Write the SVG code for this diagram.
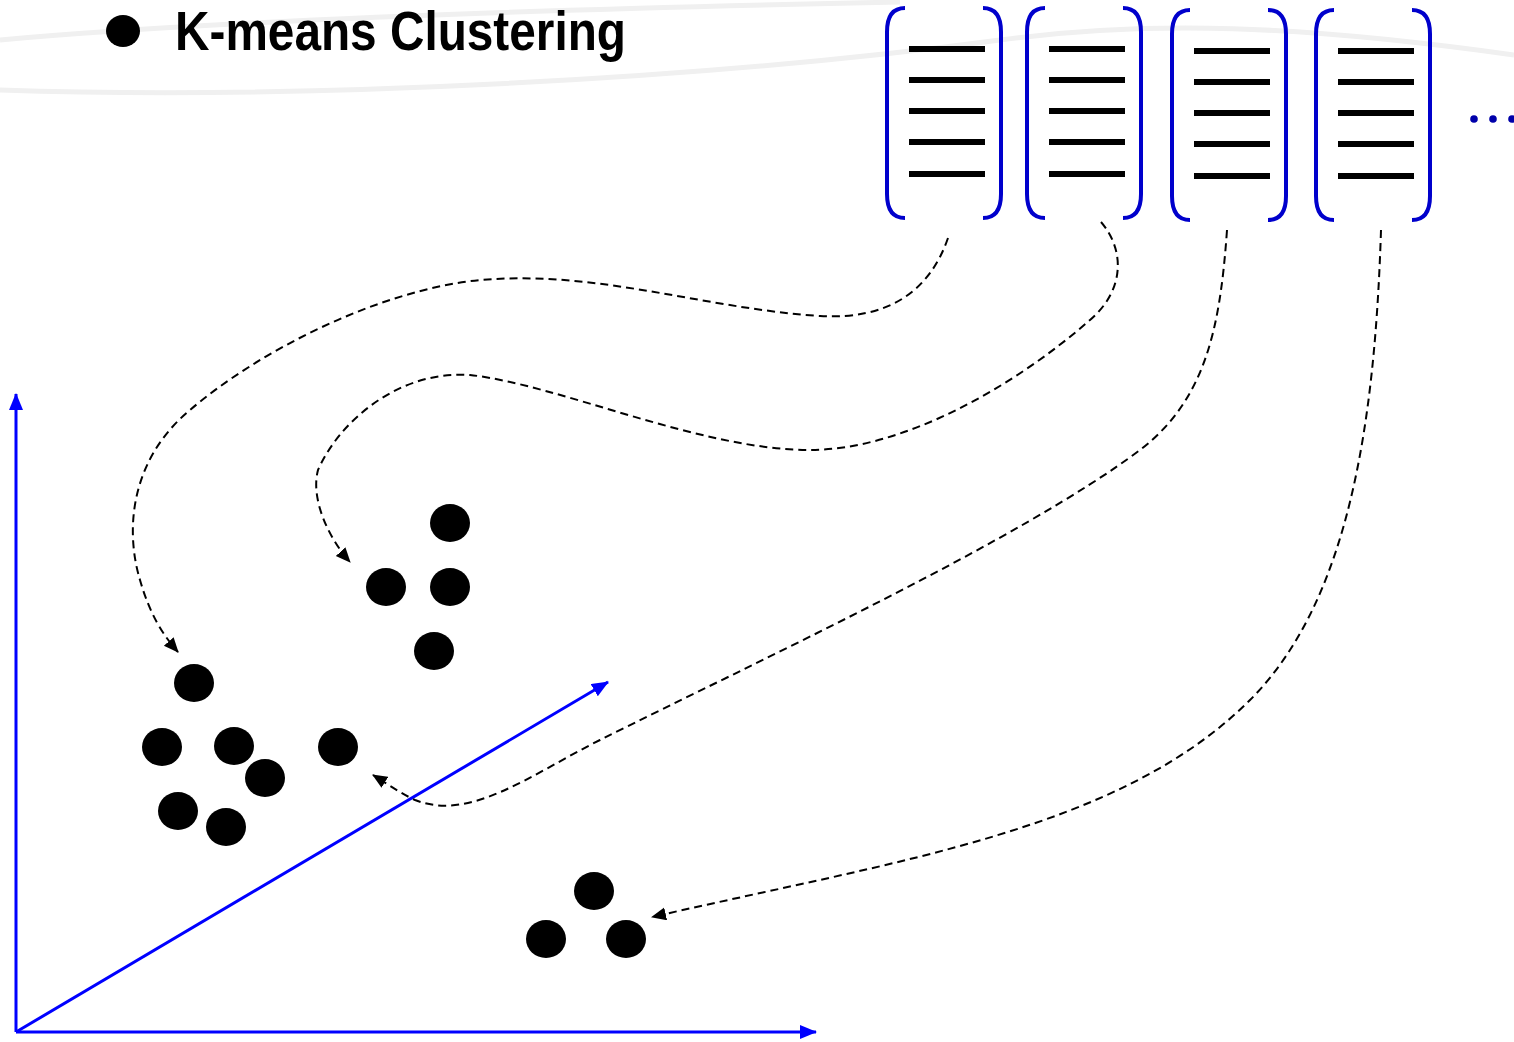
<svg xmlns="http://www.w3.org/2000/svg" width="1514" height="1042" viewBox="0 0 1514 1042">
<defs>
<style>
.bg{fill:none;stroke:#f0f0f0;stroke-width:5}
.br{fill:none;stroke:#0000cc;stroke-width:4;stroke-linecap:butt}
.ln{stroke:#000;stroke-width:6}
.ax{fill:none;stroke:#0000ff;stroke-width:3}
.cn{fill:none;stroke:#000;stroke-width:2;stroke-dasharray:8,5}
.dot{fill:#000}
.title{font-family:"Liberation Sans Narrow","Liberation Sans",Arial,sans-serif;font-weight:bold;font-size:56px;fill:#000}
</style>
<marker id="ah" markerUnits="userSpaceOnUse" markerWidth="16" markerHeight="14" refX="14" refY="6.5" orient="auto">
<path d="M0,0 L15,6.5 L0,13 z" fill="#000"/>
</marker>
<marker id="ab" markerUnits="userSpaceOnUse" markerWidth="18" markerHeight="16" refX="16" refY="7" orient="auto">
<path d="M0,0 L17,7 L0,14 z" fill="#0000ff"/>
</marker>
<g id="doc">
<path class="br" d="M20,0 C8,0 2,8 2,24 L2,186 C2,202 8,210 20,210"/>
<path class="br" d="M98,0 C110,0 116,8 116,24 L116,186 C116,202 110,210 98,210"/>
<line class="ln" x1="24" y1="41" x2="100" y2="41"/>
<line class="ln" x1="24" y1="72" x2="100" y2="72"/>
<line class="ln" x1="24" y1="103" x2="100" y2="103"/>
<line class="ln" x1="24" y1="134" x2="100" y2="134"/>
<line class="ln" x1="24" y1="166" x2="100" y2="166"/>
</g>
</defs>
<rect width="1514" height="1042" fill="#fff"/>
<g id="background">
<path class="bg" d="M0,40 C200,22 500,10 900,2"/>
<path class="bg" d="M0,90 C300,100 700,80 1000,40 C1150,20 1300,25 1514,55"/>
</g>
<g id="title">
<ellipse cx="123" cy="31" rx="17" ry="16" fill="#000"/>
<text class="title" x="175" y="50" textLength="451" lengthAdjust="spacingAndGlyphs">K-means Clustering</text>
</g>
<g id="doc1"><use href="#doc" x="885" y="8"/></g>
<g id="doc2"><use href="#doc" x="1025" y="8"/></g>
<g id="doc3"><use href="#doc" x="1170" y="10"/></g>
<g id="doc4"><use href="#doc" x="1314" y="10"/></g>
<g id="ellipsis" fill="#0000aa">
<circle cx="1474" cy="119" r="3.8"/>
<circle cx="1493" cy="119" r="3.8"/>
<circle cx="1512" cy="119" r="3.8"/>
</g>
<g id="axes">
<line class="ax" x1="16" y1="1032" x2="16" y2="394" marker-end="url(#ab)"/>
<line class="ax" x1="16" y1="1032" x2="816" y2="1032" marker-end="url(#ab)"/>
<line class="ax" x1="16" y1="1032" x2="608" y2="682" marker-end="url(#ab)"/>
</g>
<g id="cluster1">
<ellipse class="dot" cx="194" cy="683" rx="20" ry="19"/>
<ellipse class="dot" cx="162" cy="747" rx="20" ry="19"/>
<ellipse class="dot" cx="234" cy="746" rx="20" ry="19"/>
<ellipse class="dot" cx="265" cy="778" rx="20" ry="19"/>
<ellipse class="dot" cx="178" cy="811" rx="20" ry="19"/>
<ellipse class="dot" cx="226" cy="827" rx="20" ry="19"/>
<ellipse class="dot" cx="338" cy="747" rx="20" ry="19"/>
</g>
<g id="cluster2">
<ellipse class="dot" cx="450" cy="523" rx="20" ry="19"/>
<ellipse class="dot" cx="386" cy="587" rx="20" ry="19"/>
<ellipse class="dot" cx="450" cy="587" rx="20" ry="19"/>
<ellipse class="dot" cx="434" cy="651" rx="20" ry="19"/>
</g>
<g id="cluster3">
<ellipse class="dot" cx="594" cy="891" rx="20" ry="19"/>
<ellipse class="dot" cx="546" cy="939" rx="20" ry="19"/>
<ellipse class="dot" cx="626" cy="939" rx="20" ry="19"/>
</g>
<g id="connectors">
<path class="cn" marker-end="url(#ah)" d="M948,238 C930,290 890,320 820,316 C700,308 600,270 480,280 C380,290 260,350 190,410 C130,460 125,530 140,580 C150,615 163,635 178,652"/>
<path class="cn" marker-end="url(#ah)" d="M1101,222 C1125,250 1125,290 1090,320 C1010,390 900,450 810,450 C700,450 560,385 470,375 C400,370 340,420 318,470 C310,500 330,540 350,562"/>
<path class="cn" marker-end="url(#ah)" d="M1227,230 C1220,330 1205,400 1140,450 C1020,540 760,660 600,740 C530,775 470,822 415,800 C398,792 386,783 373,775"/>
<path class="cn" marker-end="url(#ah)" d="M1381,230 C1375,420 1350,600 1250,700 C1120,830 900,860 652,917"/>
</g>
</svg>
